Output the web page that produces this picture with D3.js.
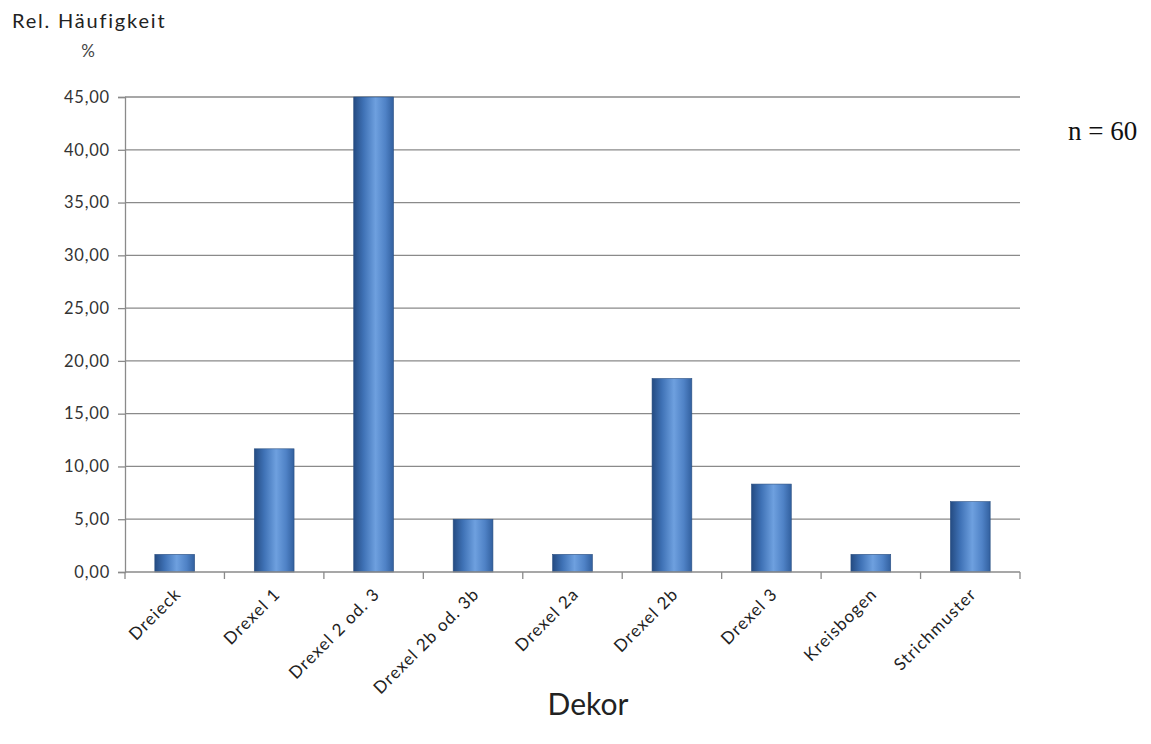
<!DOCTYPE html>
<html><head><meta charset="utf-8">
<script src="https://cdn.jsdelivr.net/npm/d3@7"></script>
<style>body{margin:0;background:#fff}</style>
</head><body>
<svg id="c" width="1151" height="744"></svg>
<script>
const categories = ["Dreieck","Drexel 1","Drexel 2 od. 3","Drexel 2b od. 3b","Drexel 2a","Drexel 2b","Drexel 3","Kreisbogen","Strichmuster"];
const values = [1.67,11.67,45.00,5.00,1.67,18.33,8.33,1.67,6.67];
const yTicks = [0,5,10,15,20,25,30,35,40,45];

const svg = d3.select("#c");
const L=125, R=1020, T=97, B=572;
const FONT = "Lato, 'Open Sans', sans-serif";
const x = d3.scaleBand().domain(categories).range([L,R]).paddingInner(0.6).paddingOuter(0.3);
const y = d3.scaleLinear().domain([0,45]).range([B,T]);
const fmt = v => d3.format(".2f")(v).replace(".", ",");

const defs = svg.append("defs");
const g = defs.append("linearGradient").attr("id","bg").attr("x1","0").attr("x2","1").attr("y1","0").attr("y2","0");
[[0,"#244b82"],[0.25,"#3f72b6"],[0.55,"#6ea0df"],[0.8,"#4f82c6"],[1,"#32609f"]].forEach(([o,c])=>g.append("stop").attr("offset",o).attr("stop-color",c));

// gridlines
svg.append("g").selectAll("line").data(yTicks.filter(d=>d>0)).join("line")
  .attr("x1",L).attr("x2",R).attr("y1",d=>y(d)).attr("y2",d=>y(d))
  .attr("stroke","#8a8a8a").attr("stroke-width",1.3);

// bars
svg.append("g").selectAll("rect").data(values).join("rect")
  .attr("x",(d,i)=>x(categories[i])).attr("width",x.bandwidth())
  .attr("y",d=>y(d)).attr("height",d=>B-y(d))
  .attr("fill","url(#bg)").attr("stroke","#2a4f80").attr("stroke-width",0.6);

// y axis
const ya = svg.append("g").attr("transform",`translate(${L},0)`)
  .call(d3.axisLeft(y).tickValues(yTicks).tickFormat(fmt).tickSize(7).tickPadding(8));
ya.select(".domain").attr("stroke","#8a8a8a").attr("stroke-width",1.3);
ya.selectAll(".tick line").attr("stroke","#8a8a8a").attr("stroke-width",1.3);
ya.selectAll("text").attr("font-family",FONT).attr("font-size",16.5).attr("letter-spacing",0.8).attr("fill","#333");

// x axis
const xa = svg.append("g").attr("transform",`translate(0,${B})`);
xa.append("line").attr("x1",L).attr("x2",R).attr("stroke","#8a8a8a").attr("stroke-width",1.3);
const tickPos = d3.range(categories.length+1).map(i=>L+i*(R-L)/categories.length);
xa.selectAll(".t").data(tickPos).join("line").attr("class","t")
  .attr("x1",d=>d).attr("x2",d=>d).attr("y1",0).attr("y2",7)
  .attr("stroke","#8a8a8a").attr("stroke-width",1.3);
xa.selectAll("text").data(categories).join("text")
  .attr("transform",d=>`translate(${x(d)+x.bandwidth()/2+3},${19}) rotate(-45)`)
  .attr("text-anchor","end").attr("dy","0.35em")
  .attr("font-family",FONT).attr("font-size",17).attr("letter-spacing",1.1).attr("fill","#222")
  .text(d=>d);

// titles
svg.append("text").attr("x",12).attr("y",28).attr("font-family",FONT).attr("font-size",20).attr("letter-spacing",1.8).attr("fill","#222").text("Rel. Häufigkeit");
svg.append("text").attr("x",88).attr("y",57).attr("text-anchor","middle").attr("font-family",FONT).attr("font-size",17).attr("fill","#444").text("%");
svg.append("text").attr("x",588).attr("y",715).attr("text-anchor","middle").attr("font-family",FONT).attr("font-size",30).attr("fill","#222").text("Dekor");
svg.append("text").attr("x",1068).attr("y",140).attr("font-family","'Liberation Serif', 'DejaVu Serif', serif").attr("font-size",27).attr("fill","#111").text("n = 60");
</script>
</body></html>
